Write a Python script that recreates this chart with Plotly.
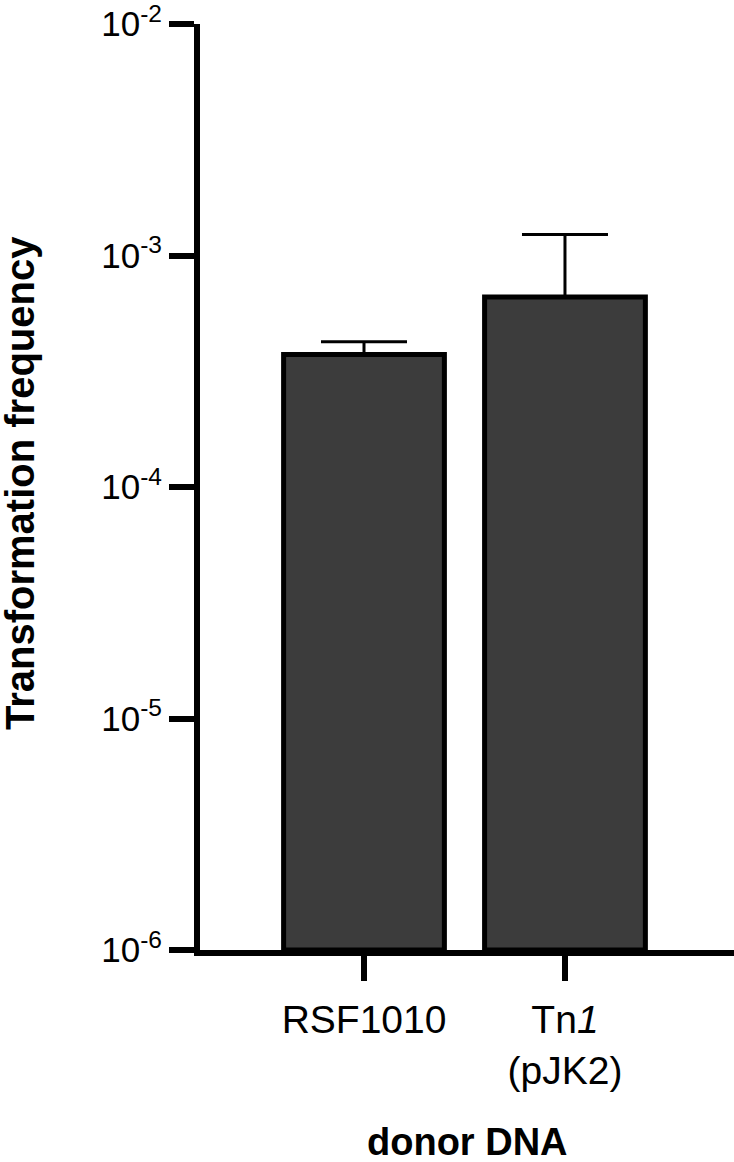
import plotly.graph_objects as go

categories = ["RSF1010", "Tn<i>1</i><br>(pJK2)"]
x_pos = [0, 1]
means = [3.73e-4, 6.6e-4]
err_plus = [0.50e-4, 5.7e-4]
y_tickvals = [1e-6, 1e-5, 1e-4, 1e-3, 1e-2]
y_ticktext = ["10<sup>-6</sup>", "10<sup>-5</sup>", "10<sup>-4</sup>", "10<sup>-3</sup>", "10<sup>-2</sup>"]

W, H = 734, 1162
ML, MR, MT, MB = 200, 0, 20, 212
FONT = "Liberation Sans, Arial, sans-serif"

fig = go.Figure()
fig.add_trace(go.Bar(
    x=x_pos, y=means, width=0.8,
    marker=dict(color="#3c3c3c", line=dict(color="black", width=5)),
    error_y=dict(type="data", symmetric=False, array=err_plus,
                 arrayminus=[0, 0], color="black", thickness=3, width=43),
    base=1e-6,
))

fig.update_layout(
    width=W, height=H,
    margin=dict(l=ML, r=MR, t=MT, b=MB, pad=0),
    paper_bgcolor="white", plot_bgcolor="white",
    showlegend=False,
    font=dict(family=FONT, color="black"),
    xaxis=dict(
        range=[-0.816, 1.841], tickvals=x_pos, ticktext=categories,
        showline=True, linecolor="black", linewidth=6,
        ticks="outside", ticklen=25, tickwidth=6, tickcolor="black",
        tickfont=dict(size=39, family=FONT, color="black"),
        ticklabelstandoff=5,
        showgrid=False, zeroline=False, fixedrange=True,
    ),
    yaxis=dict(
        type="log", range=[-6, -2], tickvals=y_tickvals, ticktext=y_ticktext,
        showline=True, linecolor="black", linewidth=6,
        ticks="outside", ticklen=25, tickwidth=6, tickcolor="black",
        tickfont=dict(size=35, family=FONT, color="black"),
        ticklabeloverflow="allow",
        showgrid=False, zeroline=False, fixedrange=True,
    ),
    annotations=[
        dict(text="<b>Transformation frequency</b>", textangle=-90,
             xref="paper", yref="paper", x=0, y=0.5, xanchor="center", yanchor="middle",
             xshift=20 - ML, yshift=4, showarrow=False,
             font=dict(size=40, family=FONT, color="black")),
        dict(text="<b>donor DNA</b>",
             xref="paper", yref="paper", x=0.5, y=0, xanchor="center", yanchor="middle",
             yshift=-(1142 - (H - MB)), showarrow=False,
             font=dict(size=38, family=FONT, color="black")),
    ],
)

fig.write_html("out.html", config={"displayModeBar": False},
               post_script="document.body.style.margin='0';document.body.style.overflow='hidden';")
